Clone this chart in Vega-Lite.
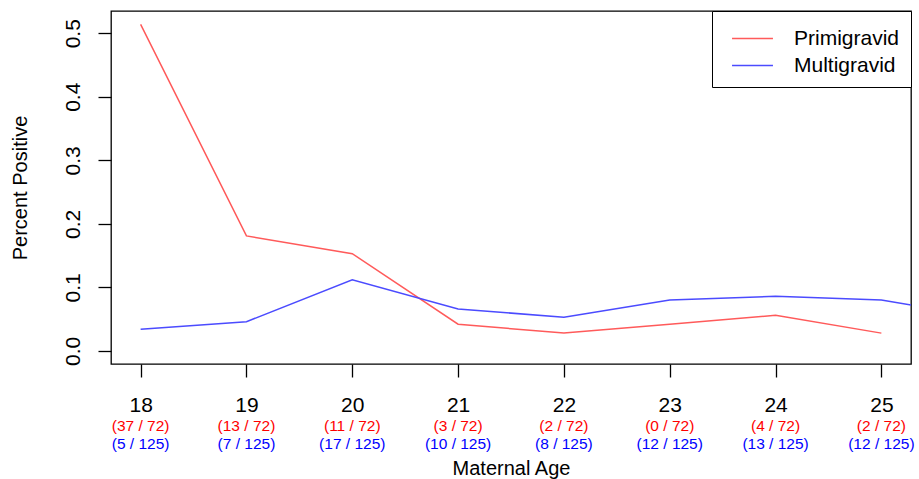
{
  "$schema": "https://vega.github.io/schema/vega-lite/v6.json",
  "width": 800,
  "height": 353,
  "autosize": {"type": "none"},
  "padding": {"left": 111, "top": 11, "right": 8, "bottom": 115},
  "background": "white",
  "config": {
    "font": "Liberation Sans",
    "view": {"stroke": "black", "strokeWidth": 1.3},
    "axis": {"grid": false, "domain": false, "tickColor": "black", "tickWidth": 1.3, "tickSize": 13, "labelColor": "black", "titleColor": "black", "labelFont": "Liberation Sans", "titleFont": "Liberation Sans", "titleFontWeight": "normal"}
  },
  "datasets": {
    "lines": [
      {"age": 18, "group": "Primigravid", "pct": 0.514},
      {"age": 19, "group": "Primigravid", "pct": 0.181},
      {"age": 20, "group": "Primigravid", "pct": 0.153},
      {"age": 21, "group": "Primigravid", "pct": 0.042},
      {"age": 22, "group": "Primigravid", "pct": 0.028},
      {"age": 23, "group": "Primigravid", "pct": 0.042},
      {"age": 24, "group": "Primigravid", "pct": 0.056},
      {"age": 25, "group": "Primigravid", "pct": 0.028},
      {"age": 18, "group": "Multigravid", "pct": 0.034},
      {"age": 19, "group": "Multigravid", "pct": 0.046},
      {"age": 20, "group": "Multigravid", "pct": 0.112},
      {"age": 21, "group": "Multigravid", "pct": 0.066},
      {"age": 22, "group": "Multigravid", "pct": 0.053},
      {"age": 23, "group": "Multigravid", "pct": 0.08},
      {"age": 24, "group": "Multigravid", "pct": 0.086},
      {"age": 25, "group": "Multigravid", "pct": 0.08},
      {"age": 26, "group": "Multigravid", "pct": 0.053}
    ],
    "counts": [
      {"age": 18, "primi": "(37 / 72)", "multi": "(5 / 125)"},
      {"age": 19, "primi": "(13 / 72)", "multi": "(7 / 125)"},
      {"age": 20, "primi": "(11 / 72)", "multi": "(17 / 125)"},
      {"age": 21, "primi": "(3 / 72)", "multi": "(10 / 125)"},
      {"age": 22, "primi": "(2 / 72)", "multi": "(8 / 125)"},
      {"age": 23, "primi": "(0 / 72)", "multi": "(12 / 125)"},
      {"age": 24, "primi": "(4 / 72)", "multi": "(13 / 125)"},
      {"age": 25, "primi": "(2 / 72)", "multi": "(12 / 125)"}
    ]
  },
  "layer": [
    {
      "data": {"name": "lines"},
      "mark": {"type": "line", "clip": true, "strokeWidth": 1.5},
      "encoding": {
        "x": {"field": "age", "type": "quantitative", "scale": {"domain": [17.72, 25.28], "nice": false, "zero": false},
          "axis": {"values": [18, 19, 20, 21, 22, 23, 24, 25], "format": "d", "title": "Maternal Age", "labelFontSize": 21, "labelPadding": 17, "labelBaseline": "top", "titleFontSize": 20, "titlePadding": 43, "labelFlush": false}},
        "y": {"field": "pct", "type": "quantitative", "scale": {"domain": [-0.0206, 0.535], "nice": false, "zero": false},
          "axis": {"values": [0, 0.1, 0.2, 0.3, 0.4, 0.5], "format": ".1f", "title": "Percent Positive", "labelAngle": -90, "labelAlign": "center", "labelBaseline": "bottom", "labelFontSize": 21, "labelPadding": 15, "titleFontSize": 20, "titlePadding": 32, "labelFlush": false}},
        "color": {"field": "group", "type": "nominal",
          "scale": {"domain": ["Primigravid", "Multigravid"], "range": ["#FF5A5A", "#4B4BFF"]},
          "legend": {"title": null, "orient": "top-right", "offset": 0, "strokeColor": "black", "fillColor": "white", "padding": 11, "symbolType": "M-1.32,0H1.32", "symbolSize": 961, "symbolStrokeWidth": 1.5, "symbolFillColor": "transparent", "symbolOffset": 13, "labelFontSize": 21, "labelOffset": 25, "labelColor": "black", "rowPadding": -4}}
      }
    },
    {
      "data": {"name": "counts"},
      "mark": {"type": "text", "color": "red", "fontSize": 15.5, "baseline": "middle", "dy": 62},
      "encoding": {
        "x": {"field": "age", "type": "quantitative"},
        "y": {"datum": -0.0206},
        "text": {"field": "primi"}
      }
    },
    {
      "data": {"name": "counts"},
      "mark": {"type": "text", "color": "blue", "fontSize": 15.5, "baseline": "middle", "dy": 80},
      "encoding": {
        "x": {"field": "age", "type": "quantitative"},
        "y": {"datum": -0.0206},
        "text": {"field": "multi"}
      }
    }
  ]
}
